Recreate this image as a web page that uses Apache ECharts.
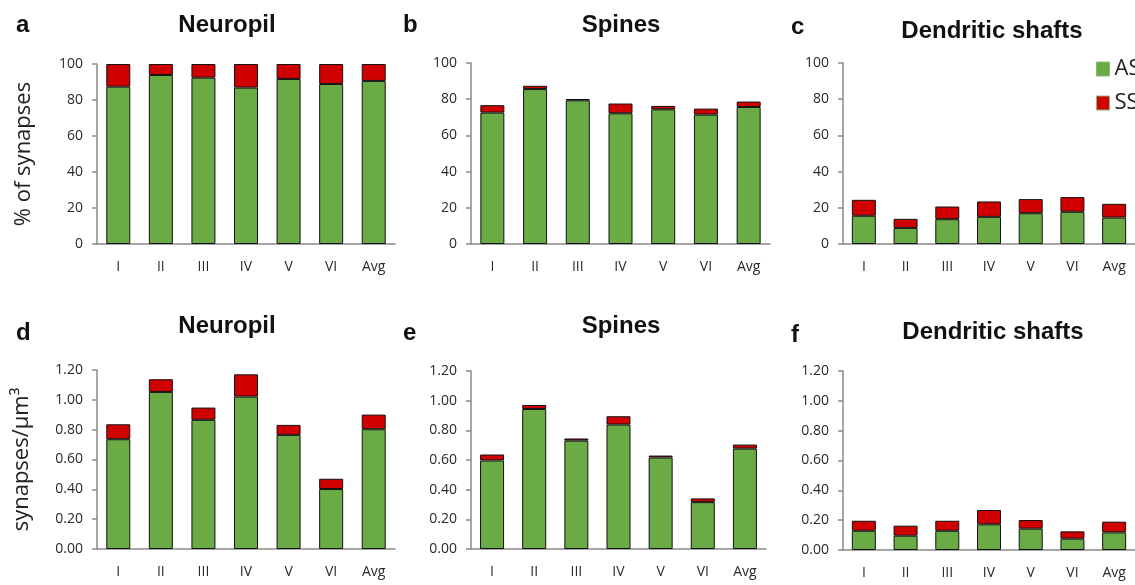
<!DOCTYPE html>
<html>
<head>
<meta charset="utf-8">
<script src="https://cdn.jsdelivr.net/npm/echarts@6/dist/echarts.min.js"></script>
<style>
html,body{margin:0;padding:0;background:#fff;}
#c{width:1135px;height:585px;}
</style>
</head>
<body>
<div id="c"></div>
<script>
const categories = ['I','II','III','IV','V','VI','Avg'];
const seriesNames = ['AS','SS'];
const yTicksPct = [0,20,40,60,80,100];
const yTicksDens = [0,0.2,0.4,0.6,0.8,1.0,1.2];

// % of synapses
const neuropilPctAS = [87.4, 93.9, 92.4, 86.9, 91.7, 88.9, 90.6];
const neuropilPctSS = [12.6, 6.1, 7.6, 13.1, 8.3, 11.1, 9.4];
const spinesPctAS = [72.6, 85.6, 79.4, 72.2, 74.4, 71.5, 75.7];
const spinesPctSS = [4.1, 1.8, 0.7, 5.4, 1.9, 3.3, 3.0];
const shaftsPctAS = [15.6, 8.9, 13.7, 15.0, 17.0, 17.8, 14.6];
const shaftsPctSS = [8.8, 5.0, 7.0, 8.5, 7.8, 8.1, 7.6];

// synapses/µm³
const neuropilDensAS = [0.736, 1.053, 0.866, 1.022, 0.765, 0.402, 0.803];
const neuropilDensSS = [0.100, 0.085, 0.082, 0.149, 0.067, 0.069, 0.098];
const spinesDensAS = [0.597, 0.944, 0.731, 0.839, 0.617, 0.316, 0.677];
const spinesDensSS = [0.040, 0.027, 0.014, 0.056, 0.013, 0.025, 0.027];
const shaftsDensAS = [0.129, 0.096, 0.129, 0.172, 0.143, 0.076, 0.118];
const shaftsDensSS = [0.067, 0.067, 0.067, 0.096, 0.058, 0.049, 0.072];

const panelTitles = ['Neuropil','Spines','Dendritic shafts','Neuropil','Spines','Dendritic shafts'];
const panelLetters = ['a','b','c','d','e','f'];
const yNames = ['% of synapses','synapses/µm³'];

const GREEN = '#6aab46';
const RED = '#d10000';

const panels = [
  {as: neuropilPctAS, ss: neuropilPctSS, grid:{left:97, top:64, width:298, height:180}, dens:false},
  {as: spinesPctAS, ss: spinesPctSS, grid:{left:471, top:63, width:299, height:181}, dens:false},
  {as: shaftsPctAS, ss: shaftsPctSS, grid:{left:843, top:63, width:297, height:181}, dens:false},
  {as: neuropilDensAS, ss: neuropilDensSS, grid:{left:97, top:370, width:298, height:179}, dens:true},
  {as: spinesDensAS, ss: spinesDensSS, grid:{left:471, top:371, width:295, height:178}, dens:true},
  {as: shaftsDensAS, ss: shaftsDensSS, grid:{left:843, top:371, width:296, height:179}, dens:true}
];

const axisLine = {show:true, lineStyle:{color:'#8a8a8a', width:1.5}};
const grids = [], xAxes = [], yAxes = [], series = [];
panels.forEach((p, i) => {
  grids.push(Object.assign({containLabel:false}, p.grid));
  xAxes.push({
    type:'category', gridIndex:i, data:categories,
    axisLine: axisLine, axisTick:{show:false},
    axisLabel:{color:'#2a2a2a', fontSize:14, fontFamily:'Open Sans', margin:16}
  });
  const ticks = p.dens ? yTicksDens : yTicksPct;
  const y = {
    type:'value', gridIndex:i,
    min: ticks[0], max: ticks[ticks.length-1], interval: ticks[1]-ticks[0],
    axisLine: axisLine,
    axisTick:{show:true, length:5, lineStyle:{color:'#8a8a8a', width:1.5}},
    splitLine:{show:false},
    axisLabel:{color:'#2a2a2a', fontSize:14, fontFamily:'Open Sans', margin:14,
      formatter: p.dens ? (v => v.toFixed(2)) : (v => String(v))}
  };
  if (i === 0 || i === 3) {
    y.name = i === 0 ? yNames[0] : yNames[1];
    y.nameLocation = 'middle';
    y.nameRotate = 90;
    y.nameGap = i === 0 ? 62 : 64;
    y.nameTextStyle = {fontSize:22, fontFamily:'Open Sans', color:'#222'};
  }
  yAxes.push(y);
  series.push({
    name: seriesNames[0], type:'bar', stack:'s'+i, xAxisIndex:i, yAxisIndex:i,
    data: p.as, barWidth:24,
    itemStyle:{color:GREEN, borderColor:'#111', borderWidth:1}
  });
  series.push({
    name: seriesNames[1], type:'bar', stack:'s'+i, xAxisIndex:i, yAxisIndex:i,
    data: p.ss, barWidth:24,
    itemStyle:{color:RED, borderColor:'#111', borderWidth:1}
  });
});

const titlePos = [
  {x:227, y:25}, {x:621, y:25}, {x:992, y:31},
  {x:227, y:326}, {x:621, y:326}, {x:993, y:332}
];
const letterPos = [
  {x:16, y:25}, {x:403, y:25}, {x:791, y:27},
  {x:16, y:333}, {x:403, y:333}, {x:791, y:335}
];
const graphics = [];
panelTitles.forEach((t, i) => {
  graphics.push({type:'text', x:titlePos[i].x, y:titlePos[i].y,
    style:{text:t, font:'bold 24px "Liberation Sans", Arial, sans-serif', fill:'#111',
      textAlign:'center', textVerticalAlign:'middle'}});
  graphics.push({type:'text', x:letterPos[i].x, y:letterPos[i].y,
    style:{text:panelLetters[i], font:'bold 24px "Liberation Sans", Arial, sans-serif', fill:'#111',
      textAlign:'left', textVerticalAlign:'middle'}});
});

const chart = echarts.init(document.getElementById('c'), null, {renderer:'canvas'});
chart.setOption({
  animation:false,
  backgroundColor:'#fff',
  legend:{
    data: seriesNames, orient:'vertical', left:1096, top:56,
    itemWidth:13, itemHeight:14, itemGap:8, icon:'rect', padding:0,
    textStyle:{fontSize:22, fontFamily:'Open Sans', color:'#222', lineHeight:26},
    itemStyle:{borderColor:'#8ab87a', borderWidth:1}
  },
  grid: grids, xAxis: xAxes, yAxis: yAxes, series: series,
  graphic: graphics
});
</script>
</body>
</html>
